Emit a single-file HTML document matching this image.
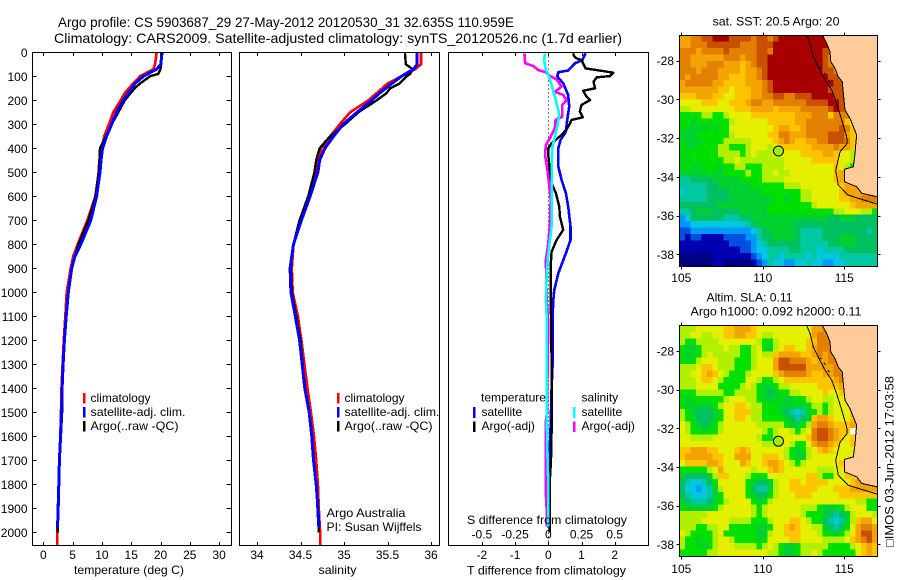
<!DOCTYPE html>
<html>
<head>
<meta charset="utf-8">
<title>Argo profile</title>
<style>
html,body{margin:0;padding:0;background:#fff;}
svg{display:block;}
text{font-family:"Liberation Sans","DejaVu Sans",sans-serif;font-size:12px;fill:#000;}
</style>
</head>
<body>
<svg id="fig" xmlns="http://www.w3.org/2000/svg" width="900" height="580" viewBox="0 0 900 580">
<rect x="0" y="0" width="900" height="580" fill="#fff"/>
<text x="58" y="27" font-size="14" textLength="456" lengthAdjust="spacingAndGlyphs" style="font-size:14px">Argo profile: CS 5903687_29 27-May-2012 20120530_31 32.635S 110.959E</text>
<text x="54" y="43" font-size="14" textLength="568" lengthAdjust="spacingAndGlyphs" style="font-size:14px">Climatology: CARS2009. Satellite-adjusted climatology: synTS_20120526.nc (1.7d earlier)</text>
<g id="panels"></g>
<g id="maps"></g>

<text x="129" y="574" text-anchor="middle" textLength="110" lengthAdjust="spacingAndGlyphs">temperature (deg C)</text>
<text x="337.5" y="574" text-anchor="middle" textLength="38" lengthAdjust="spacingAndGlyphs">salinity</text>
<text x="467" y="574.5" textLength="159" lengthAdjust="spacingAndGlyphs">T difference from climatology</text>
<text x="467" y="524" textLength="160" lengthAdjust="spacingAndGlyphs">S difference from climatology</text>

<g>
<rect x="83" y="393" width="2.5" height="10.5" fill="#ff0000"/>
<rect x="83" y="407" width="2.5" height="10.5" fill="#0000ff"/>
<rect x="83" y="421" width="2.5" height="10.5" fill="#000"/>
<text x="90.5" y="402">climatology</text>
<text x="90.5" y="416" textLength="95" lengthAdjust="spacingAndGlyphs">satellite-adj. clim.</text>
<text x="90.5" y="430" textLength="88" lengthAdjust="spacingAndGlyphs">Argo(..raw -QC)</text>
</g>
<g>
<rect x="337" y="393" width="2.5" height="10.5" fill="#ff0000"/>
<rect x="337" y="407" width="2.5" height="10.5" fill="#0000ff"/>
<rect x="337" y="421" width="2.5" height="10.5" fill="#000"/>
<text x="344.5" y="402">climatology</text>
<text x="344.5" y="416" textLength="95" lengthAdjust="spacingAndGlyphs">satellite-adj. clim.</text>
<text x="344.5" y="430" textLength="88" lengthAdjust="spacingAndGlyphs">Argo(..raw -QC)</text>
</g>
<text x="326.5" y="517" textLength="79" lengthAdjust="spacingAndGlyphs">Argo Australia</text>
<text x="326.5" y="531" textLength="95" lengthAdjust="spacingAndGlyphs">PI: Susan Wijffels</text>

<g>
<text x="481" y="401.5" textLength="65" lengthAdjust="spacingAndGlyphs">temperature</text>
<rect x="473" y="407" width="2.5" height="11" fill="#0000ff"/>
<text x="481.5" y="416">satellite</text>
<rect x="473" y="421.5" width="2.5" height="10.5" fill="#000"/>
<text x="481.5" y="430">Argo(-adj)</text>
<text x="581.5" y="401.5">salinity</text>
<rect x="573" y="407" width="2.5" height="11" fill="#00ffff"/>
<text x="581.5" y="416">satellite</text>
<rect x="573" y="421.5" width="2.5" height="10.5" fill="#ff00ff"/>
<text x="581.5" y="430">Argo(-adj)</text>
</g>

<text x="712.5" y="25.5" textLength="127" lengthAdjust="spacingAndGlyphs">sat. SST: 20.5  Argo: 20</text>
<text x="706.5" y="301.5" textLength="86" lengthAdjust="spacingAndGlyphs">Altim. SLA: 0.11</text>
<text x="690.5" y="315.5" textLength="171" lengthAdjust="spacingAndGlyphs">Argo h1000: 0.092 h2000: 0.11</text>
<text transform="translate(893.5,547) rotate(-90)" x="0" y="0" textLength="171" lengthAdjust="spacingAndGlyphs">□IMOS 03-Jun-2012 17:03:58</text>
</svg>

<script>
/* ---------- profile data ---------- */
const depthTicks = [0,100,200,300,400,500,600,700,800,900,1000,1100,1200,1300,1400,1500,1600,1700,1800,1900,2000];
const tempTicks = [0,5,10,15,20,25,30];
const salTicks = [34,34.5,35,35.5,36];
const salTickLabels = ['34','34.5','35','35.5','36'];
const diffTicks = [-2,-1,0,1,2];
const sDiffLabels = ['-0.5','-0.25','0','0.25','0.5'];

const climDepth = [0,50,70,100,130,170,200,250,300,350,400,450,500,600,700,800,850,900,1000,1100,1200,1300,1400,1500,1600,1700,1800,1900,2000,2053];
const climTemp = [19.35,19.06,18.8,16.5,15.3,13.9,13.2,11.95,11.2,10.4,9.96,9.56,9.45,8.87,7.5,5.87,5.1,4.67,4.0,3.75,3.5,3.3,3.1,3.02,2.9,2.73,2.63,2.56,2.39,2.39];
const climSal = [35.885,35.885,35.82,35.66,35.5,35.376,35.28,35.07,34.95,34.84,34.74,34.71,34.68,34.59,34.49,34.42,34.41,34.4,34.41,34.47,34.51,34.545,34.58,34.62,34.655,34.68,34.7,34.71,34.725,34.725];

const satDepth = [0,50,70,100,130,170,200,250,300,350,400,450,500,600,700,800,850,900,1000,1100,1200,1300,1400,1500,1600,1700,1800,1900,1980];
const satTemp = [20.2,20.08,19.35,17.07,15.65,14.5,13.65,12.5,11.67,10.8,10.1,9.85,9.67,9.1,8.1,6.4,5.4,4.85,4.27,3.9,3.6,3.38,3.2,3.1,2.95,2.75,2.65,2.55,2.42];
const satSal = [35.84,35.84,35.8,35.66,35.55,35.41,35.32,35.15,34.99,34.88,34.78,34.72,34.70,34.61,34.51,34.42,34.4,34.38,34.39,34.44,34.49,34.52,34.55,34.6,34.63,34.65,34.68,34.7,34.715];

const argoDepth = [0,50,70,90,100,130,150,170,200,250,300,350,400,450,500,600,700,800,850,900,1000,1100,1200,1300,1400,1500,1600,1700,1800,1900,2000];
const argoTemp = [20.3,20.1,20,19.6,18.2,16.5,15.6,14.9,13.9,12.8,11.67,10.7,9.67,9.6,9.45,8.93,7.7,6,5.4,4.8,4.25,3.9,3.62,3.42,3.25,3.2,3.0,2.78,2.68,2.45,2.45];
const argoSal = [35.70,35.71,35.79,35.76,35.72,35.64,35.53,35.49,35.376,35.165,35.01,34.84,34.72,34.68,34.66,34.59,34.49,34.42,34.4,34.39,34.40,34.45,34.5,34.525,34.55,34.6,34.63,34.65,34.68,34.695,34.71];

const diffSatTDepth = [4,32,46,76,83,101,129,178,226,282,331,365,400,476,532,587,643,726,782,837,921,990,1032,1100,1300,1400,1500,1600,1700,1800,1900,1980];
const diffSatT = [1.12,1.03,0.8,0.6,0.3,0.27,0.45,0.6,0.63,0.57,0.53,0.37,0.3,0.3,0.4,0.53,0.6,0.67,0.67,0.53,0.3,0.18,0.15,0.13,0.13,0.1,0.08,0.06,0.02,0,0,0];

const diffArgoTDepth = [4,15,25,32,67,74,85,99,104,122,150,160,185,199,219,247,271,282,303,321,344,379,400,428,504,546,587,643,685,740,782,831,893,1032,1100,1300,1500,1700,1800,1950,2000];
const diffArgoT = [0.75,0.77,0.85,1.0,1.12,1.46,1.96,1.86,1.46,1.36,1.41,1.05,1.15,1.26,1.0,0.95,1.04,0.7,0.63,0.55,0.4,0.1,0,0,0.05,0.1,0.23,0.33,0.35,0.45,0.25,0.1,0.07,0.07,0.08,0.1,0.11,0.08,0.04,0.05,0.04];

const diffArgoSDepth = [4,46,57,74,83,94,113,143,164,178,199,219,268,282,317,358,386,428,483,546,615,712,796,865,1032,1130,1300,1500,1545,1820,1905,1975];
const diffArgoS = [-0.18,-0.175,-0.112,-0.075,-0.018,0,0.062,0.1,0.05,0.112,0.138,0.105,0.105,0.055,0.05,0.012,-0.018,-0.025,-0.008,0.005,0.018,0.012,0,-0.018,-0.012,0,-0.005,-0.01,-0.02,-0.02,-0.012,-0.012];

const diffSatSDepth = [4,32,74,94,136,185,240,262,310,352,393,450,532,643,726,837,921,1032,1100,1300,1500,1700,1800,1975];
const diffSatS = [-0.025,-0.032,-0.018,0,0.025,0.05,0.075,0.082,0.068,0.05,0.032,0.025,0.025,0.025,0.025,0,-0.012,-0.018,-0.012,-0.012,-0.012,-0.005,0,0];

/* ---------- map data (colour levels 0-15 from the map palette, 16 = white) ---------- */
const lonTicks = [105,110,115];
const latTicks = [-28,-30,-32,-34,-36,-38];
const floatLon = [110.96];
const floatLat = [-32.635];

const coastLon = [113.65,113.92,114.12,114.17,114.43,114.63,114.88,114.94,115.04,115.35,115.55,115.76,115.70,115.66,115.55,115.0,115.0,115.76,116.07,117.03];
const coastLat = [-26.67,-27.10,-27.53,-28.05,-28.39,-28.83,-29.09,-29.68,-30.55,-30.98,-31.41,-31.84,-32.36,-32.77,-33.48,-33.61,-34.25,-34.51,-34.85,-35.03];
const isobathLon = [112.69,112.9,113.1,113.4,113.82,114.23,114.53,114.84,115.15,115.18,114.74,114.47,114.63,115.24,115.86,117.03];
const isobathLat = [-26.67,-27.1,-27.79,-28.31,-29.0,-29.51,-30.2,-31.06,-31.93,-32.27,-32.7,-33.65,-34.42,-34.94,-35.11,-35.41];
const islandLon = [113.5,113.6,113.75,113.85,114.0,114.1];
const islandLat = [-28.35,-28.42,-28.62,-28.7,-29.0,-29.1];

const sstRows = [
[12,12,13,13,14,14,15,15,15,14,14,14,14,13,14,14,13,14,15,15,15,15,15,15,15,15,15,14,14,14],
[12,12,13,13,13,14,14,14,14,14,14,13,13,13,14,14,14,15,15,15,15,15,15,15,15,15,15,14,14,14],
[13,13,13,12,13,13,13,13,14,13,13,13,13,13,14,14,13,15,15,15,15,15,15,15,15,15,14,14,14,14],
[13,13,12,12,12,12,12,12,13,13,13,12,13,13,14,14,15,15,15,15,15,15,15,15,15,15,14,13,13,13,13],
[13,13,12,12,12,13,13,13,12,12,12,11,12,13,14,14,15,15,15,15,15,15,15,15,15,15,14,13,13,13,13],
[13,13,13,12,13,13,13,12,12,12,12,11,12,12,13,14,15,15,15,15,15,15,15,15,15,15,14,14,13,13,13],
[13,12,13,13,13,13,13,12,12,11,11,11,12,12,13,14,15,15,15,15,15,15,15,15,15,15,15,14,14,13,13,13],
[12,13,13,13,13,13,12,12,11,11,11,11,12,12,12,13,14,15,15,15,15,15,15,15,15,15,15,15,14,14,13,13],
[12,12,12,12,12,12,12,11,11,10,11,11,11,12,12,13,14,15,15,15,15,15,15,15,15,15,15,14,14,14,13,13],
[11,11,11,12,12,12,11,11,10,10,11,11,11,12,12,13,13,14,14,13,13,14,14,14,15,15,15,15,14,14,13,13],
[10,10,10,10,11,11,11,10,10,11,11,11,12,13,13,12,12,13,13,13,13,13,13,14,14,14,14,15,15,14,13,12,12],
[9,9,10,10,10,10,10,10,10,10,11,11,11,12,12,12,12,11,12,12,12,12,13,13,13,13,13,14,15,14,13,12,12],
[8,8,8,8,9,9,8,8,9,10,10,10,10,11,11,11,11,11,11,11,11,12,12,12,13,13,13,11,13,13,13,12,11],
[8,8,7,8,8,8,8,8,8,9,10,10,10,10,10,10,11,11,11,11,11,12,12,13,13,13,13,13,13,13,11,10,10],
[8,7,7,7,7,8,7,8,8,10,10,10,10,10,10,10,10,11,12,12,11,11,12,13,13,13,13,13,13,14,13,11,11],
[7,7,7,8,8,8,8,8,8,9,10,10,10,10,10,10,11,11,13,13,12,12,12,13,13,13,13,14,14,14,12,11,11],
[8,7,7,7,8,8,8,8,9,9,9,9,9,10,10,10,10,11,12,13,12,11,11,12,12,13,13,14,14,14,13,11,11],
[8,7,7,8,8,8,8,9,9,8,8,8,9,10,10,10,9,10,11,11,11,11,11,11,12,12,12,12,13,12,12,11,11,11],
[8,8,8,8,8,8,8,9,9,9,9,8,9,10,9,9,9,10,10,10,10,10,11,11,11,11,12,12,11,10,10,9,9,9],
[8,7,8,8,8,8,8,8,9,9,10,9,9,9,9,9,9,9,9,10,10,10,10,10,11,11,11,11,11,10,10,9,8,8],
[8,8,7,7,8,8,8,7,8,8,9,9,8,8,8,9,9,9,9,10,10,10,10,10,10,10,10,10,11,10,9,8,8,8],
[7,7,7,7,7,8,7,7,8,8,8,8,9,8,8,9,9,10,9,9,10,10,10,10,10,10,10,10,11,12,12,12,12],
[5,5,6,6,6,6,7,7,7,7,7,8,8,8,8,9,9,9,9,10,10,10,10,10,10,10,10,10,11,12,12,12,12],
[5,5,5,5,5,6,6,7,7,7,7,7,7,8,8,8,8,8,8,9,9,9,10,10,10,10,10,10,10,11,12,12,12,12,12,12],
[4,5,5,5,5,6,6,6,6,7,7,7,7,7,7,8,8,8,8,8,8,8,9,9,10,10,10,10,10,11,12,12,12,12,12,12],
[5,5,5,5,5,6,6,6,6,7,7,7,7,7,7,7,7,8,8,7,8,8,9,9,10,10,10,10,10,11,11,12,12,13,13,13],
[6,6,6,6,6,6,6,7,7,7,7,7,7,7,7,7,8,8,8,8,8,8,8,8,9,10,10,10,10,10,10,11,12,12,12,12],
[5,5,6,7,7,7,6,6,6,6,6,7,7,7,7,7,8,8,8,8,8,8,8,8,8,8,8,8,9,9,10,10,10,9,9,8],
[3,4,6,6,6,6,6,6,5,5,5,6,6,7,7,7,7,7,7,7,7,7,7,7,7,7,7,6,6,7,7,7,6,6,6,6],
[3,3,4,4,4,4,4,4,4,4,4,4,5,6,7,7,7,7,7,7,7,6,6,6,6,6,6,6,6,6,6,6,6,6,6,6],
[2,2,3,3,3,3,3,3,3,3,3,3,3,4,5,6,7,7,7,7,7,6,5,5,5,5,6,6,6,6,6,6,6,6,5,6],
[2,1,2,2,1,1,1,1,2,2,2,2,3,3,5,6,6,7,7,7,7,6,5,5,5,5,6,6,6,7,7,7,6,6,6,6],
[1,1,1,1,1,1,1,1,1,2,2,2,2,3,4,5,6,6,6,6,6,6,5,5,5,5,5,6,6,7,7,7,6,6,6,6],
[1,1,1,1,1,1,1,1,1,1,1,2,2,3,4,4,5,5,5,5,6,6,5,5,5,4,5,5,5,5,6,6,6,6,6,6],
[0,0,0,0,0,0,1,1,1,1,1,1,1,2,3,4,5,5,4,5,5,5,5,4,5,4,4,4,4,5,5,5,5,5,5,5],
[0,0,0,0,0,0,1,1,0,0,0,0,0,1,2,3,5,4,4,3,3,4,4,5,4,4,3,3,4,4,5,5,5,5,5,5]
];

const slaRows = [
[9,9,9,10,10,10,10,10,11,11,12,12,12,11,10,10,10,10,10,10,10,10,10,10,12,12,13,13,13],
[9,9,10,10,9,9,10,10,11,11,12,12,11,11,10,9,9,10,10,10,10,10,10,10,12,13,13,13,13,13],
[9,8,8,9,9,9,9,10,10,10,10,10,10,10,9,8,8,9,10,10,10,10,10,11,11,13,13,13,13,13],
[8,7,7,8,9,9,9,9,10,9,9,8,8,9,10,8,7,9,10,11,11,10,10,11,12,13,13,13,13,13],
[8,7,7,8,9,10,9,9,9,9,9,8,8,9,10,9,9,11,12,12,12,12,11,11,12,13,12,13,13,13,13],
[8,7,8,9,10,10,10,9,9,9,8,8,8,9,10,10,10,12,14,14,13,13,13,12,11,12,12,13,13,13,13],
[9,9,9,10,11,11,10,9,9,9,8,8,8,9,10,10,10,12,14,14,14,14,14,12,12,12,12,12,13,13,13],
[9,9,10,10,11,12,11,10,9,8,8,8,9,10,10,10,10,11,12,13,13,13,13,12,11,11,12,12,13,13,13],
[9,9,9,10,11,11,10,9,8,8,8,8,10,10,9,8,8,9,10,11,11,11,11,11,11,11,11,11,12,13,13,13],
[9,9,9,10,10,10,10,8,8,8,8,9,10,9,8,7,7,8,9,9,10,10,10,10,10,11,11,11,11,12,12,12],
[8,8,8,9,9,9,9,9,8,8,9,9,9,9,8,7,6,7,8,8,9,9,10,10,10,10,11,10,10,11,11,12,12],
[8,7,8,8,8,8,8,8,9,10,10,10,9,9,8,7,7,7,8,7,7,8,8,9,10,10,9,9,10,10,11,12,12],
[8,7,7,7,7,7,8,9,10,10,11,11,10,9,9,8,8,8,7,7,7,7,7,8,9,9,8,9,10,10,10,11,12],
[9,8,7,6,6,6,7,8,10,10,11,11,11,9,9,8,8,8,7,6,5,4,5,7,8,9,8,9,10,10,10,11,12],
[9,8,7,6,6,6,7,8,10,10,11,11,10,9,9,8,8,8,8,7,6,5,6,7,11,12,12,11,10,10,10,11,12],
[10,9,8,7,6,7,8,9,10,10,10,10,10,10,9,9,9,9,9,8,7,7,8,9,12,13,13,12,11,11,11,12,12],
[10,9,8,8,7,8,8,9,10,10,10,10,10,10,10,9,8,9,10,10,9,8,9,10,13,14,14,13,12,11,11,16,12],
[10,10,9,9,9,9,10,10,10,10,10,10,10,10,9,8,8,9,10,10,10,10,10,11,13,14,14,13,12,11,10,11,11],
[10,10,10,10,10,10,10,10,10,10,10,10,10,10,10,9,9,9,10,10,9,8,8,10,12,13,13,12,11,10,10,11,11],
[11,11,12,12,12,11,11,10,10,10,11,12,11,10,10,10,10,10,10,9,8,7,8,9,10,11,12,11,10,10,10,10,10],
[11,12,12,12,12,12,11,11,10,10,12,12,12,10,10,11,11,11,10,9,8,7,7,9,10,10,10,10,10,10,10,10,10],
[10,11,11,11,11,12,12,11,10,10,10,12,11,10,10,11,12,12,11,10,9,8,9,10,10,10,10,10,10,11,11,11,11],
[8,8,8,8,8,9,10,12,10,10,10,10,10,9,10,10,11,12,11,10,10,10,10,10,10,9,9,9,10,10,11,11,11],
[7,6,6,6,6,7,9,11,11,10,10,10,9,8,8,8,10,10,10,10,10,10,10,11,11,9,8,8,10,10,11,11,11,11],
[6,5,4,4,5,6,8,10,10,10,10,10,8,7,6,6,7,9,10,10,11,11,10,11,11,11,11,10,10,10,10,11,12,12,12,11],
[6,4,4,3,4,5,7,9,10,10,10,10,8,6,5,5,7,9,10,10,11,11,11,11,11,10,10,10,11,11,11,12,12,12,12,12],
[6,5,4,4,4,5,7,8,10,10,10,10,8,7,6,6,8,9,10,10,10,11,11,11,10,10,10,10,10,11,11,11,11,11,11,11],
[7,6,5,5,5,6,7,8,9,10,10,10,10,8,7,8,9,10,10,10,10,10,10,10,10,10,10,10,10,10,10,10,9,9,8,8],
[8,7,7,7,7,7,8,9,10,10,10,10,10,9,8,9,10,10,10,10,10,10,9,9,9,8,7,7,7,8,9,10,10,10,8,8],
[9,9,9,9,9,10,10,10,10,10,10,10,10,9,8,9,10,10,10,10,10,10,9,8,8,8,7,6,5,6,7,9,10,10,10,9],
[9,9,9,9,10,10,10,10,10,9,9,9,9,8,8,8,9,10,10,10,11,11,10,9,8,8,6,5,4,5,7,9,11,12,12,10],
[9,9,9,8,8,9,9,10,10,8,8,8,8,8,7,7,8,10,10,11,12,11,10,10,9,9,7,6,5,6,8,10,12,13,13,12],
[10,9,8,8,8,8,9,10,8,8,8,8,8,8,7,7,9,10,10,11,11,11,10,10,10,9,8,8,7,8,9,10,12,14,14,12],
[9,8,8,7,8,8,9,10,10,9,8,8,8,8,7,8,10,10,10,10,11,11,10,10,10,10,9,9,9,9,10,11,12,13,14,12],
[9,8,8,8,7,8,9,10,10,10,9,9,9,9,8,9,10,9,8,7,7,8,9,9,9,9,9,8,8,8,8,9,10,11,12,11],
[8,8,8,8,8,9,9,10,10,10,10,10,10,10,10,10,9,9,8,7,7,8,9,9,10,9,8,8,8,8,8,8,10,11,12,11]
];

/* ---------- drawing ---------- */
const SVGNS = 'http://www.w3.org/2000/svg';
const palette = ['#000080','#0000b0','#0050e0','#0098ff','#00c8e0','#00c8a0','#00c060','#00d030','#00e000','#b0f000','#e4f000','#ffc400','#f4a400','#e48000','#c85000','#a80000','#ffffff'];
const plotTop = 52.5, plotBottom = 545.5;
const depthY = d => 52.3 + d * 0.24;
const tempX = t => 43.3 + t * 5.86;
const salX = s => 257 + (s - 34) * 87;
const diffX = v => 548.3 + v * 33.2;
const sDiffX = v => diffX(v * 4);

const panels = document.getElementById('panels');
const maps = document.getElementById('maps');

function mk(tag, attrs, parent) {
  const el = document.createElementNS(SVGNS, tag);
  for (const k in attrs) el.setAttribute(k, attrs[k]);
  parent.appendChild(el);
  return el;
}
function tickMark(parent, x1, y1, x2, y2, name) {
  const el = mk('line', {x1: x1, y1: y1, x2: x2, y2: y2, stroke: '#000', 'stroke-width': 1, 'shape-rendering': 'crispEdges'}, parent);
  
  
}
function label(parent, txt, x, y, anchor, name) {
  const el = mk('text', {x: x, y: y, 'text-anchor': anchor}, parent);
  el.textContent = txt;
  
  
}
function frame(parent, x, y, w, h, name) {
  const el = mk('rect', {x: x, y: y, width: w, height: h, fill: 'none', stroke: '#000', 'stroke-width': 1, 'shape-rendering': 'crispEdges'}, parent);
  
  
}
function profile(parent, xs, depths, xFn, color, width, name) {
  const pts = xs.map((v, i) => xFn(v).toFixed(1) + ',' + depthY(depths[i]).toFixed(1)).join(' ');
  const el = mk('polyline', {points: pts, fill: 'none', stroke: color, 'stroke-width': width, 'stroke-linejoin': 'round', 'shape-rendering': 'crispEdges'}, parent);
  
  
}
function xTicks(parent, ticks, xFn, name) {
  ticks.forEach(t => {
    const x = Math.round(xFn(t)) + 0.5;
    tickMark(parent, x, plotTop, x, plotTop + 3.5, name + '-top');
    tickMark(parent, x, plotBottom, x, plotBottom - 3.5, name + '-bottom');
  });
}

/* temperature panel */
const gT = mk('g', {}, panels);


profile(gT, climTemp, climDepth, tempX, '#ff0000', 2.6, 'climatology-temperature-line');
profile(gT, argoTemp, argoDepth, tempX, '#000000', 2.4, 'argo-temperature-line');
profile(gT, satTemp, satDepth, tempX, '#0000ff', 3, 'satellite-temperature-line');
frame(gT, 32.5, plotTop, 199, plotBottom - plotTop, 'temperature-panel-frame');
xTicks(gT, tempTicks, tempX, 'temperature-tick');
tempTicks.forEach(t => label(gT, String(t), tempX(t), 559, 'middle', 'temperature-tick-label'));
depthTicks.forEach(d => {
  const y = Math.round(depthY(d)) + 0.5;
  tickMark(gT, 32.5, y, 36.5, y, 'depth-tick-left');
  tickMark(gT, 231.5, y, 226.5, y, 'depth-tick-right');
  label(gT, String(d), 27.5, depthY(d) + 4.5, 'end', 'depth-tick-label');
});

/* salinity panel */
const gS = mk('g', {}, panels);


profile(gS, climSal, climDepth, salX, '#ff0000', 2.6, 'climatology-salinity-line');
profile(gS, argoSal, argoDepth, salX, '#000000', 2.4, 'argo-salinity-line');
profile(gS, satSal, satDepth, salX, '#0000ff', 3, 'satellite-salinity-line');
frame(gS, 239.5, plotTop, 200, plotBottom - plotTop, 'salinity-panel-frame');
xTicks(gS, salTicks, salX, 'salinity-tick');
salTicks.forEach((t, i) => label(gS, salTickLabels[i], salX(t), 559, 'middle', 'salinity-tick-label'));

/* difference panel */
const gD = mk('g', {}, panels);


const zero = mk('line', {x1: diffX(0), y1: plotTop, x2: diffX(0), y2: plotBottom, stroke: '#000', 'stroke-width': 1, 'stroke-dasharray': '1 3', 'shape-rendering': 'crispEdges'}, gD);


profile(gD, diffSatT, diffSatTDepth, diffX, '#0000ff', 2.6, 'temperature-satellite-difference-line');
profile(gD, diffArgoT, diffArgoTDepth, diffX, '#000000', 2.4, 'temperature-argo-difference-line');
profile(gD, diffArgoS, diffArgoSDepth, sDiffX, '#ff00ff', 2.6, 'salinity-argo-difference-line');
profile(gD, diffSatS, diffSatSDepth, sDiffX, '#00ffff', 2.6, 'salinity-satellite-difference-line');
frame(gD, 448.5, plotTop, 200, plotBottom - plotTop, 'difference-panel-frame');
xTicks(gD, diffTicks, diffX, 'difference-tick');
diffTicks.forEach(t => label(gD, String(t), diffX(t), 559, 'middle', 't-difference-tick-label'));
diffTicks.forEach((t, i) => label(gD, sDiffLabels[i], diffX(t), 538.5, 'middle', 's-difference-tick-label'));

/* maps */
const MAP_LEFT = 679.5, MAP_W = 198;
const LON_MIN = 104.88, LON_MAX = 117.03, LAT_MAX = -26.69, LAT_MIN = -38.6;
const lonX = lon => 681.3 + (lon - 105) * 16.3;

function drawMap(rows, top, height, y28, scaleY, mapName, lonLabelY) {
  const latY = lat => y28 + (-28 - lat) * scaleY;
  const g = mk('g', {}, maps);
  
  
  const clipId = mapName + '-clip';
  const clip = mk('clipPath', {id: clipId}, g);
  mk('rect', {x: MAP_LEFT, y: top, width: MAP_W, height: height}, clip);
  const inner = mk('g', {'clip-path': 'url(#' + clipId + ')'}, g);
  const land = mk('rect', {x: MAP_LEFT, y: top, width: MAP_W, height: height, fill: '#ffcc99'}, inner);
  
  
  const dLon = (LON_MAX - LON_MIN) / 36;
  const dLat = (LAT_MAX - LAT_MIN) / rows.length;
  rows.forEach((row, r) => {
    row.forEach((v, c) => {
      const x0 = lonX(LON_MIN + c * dLon), x1 = lonX(LON_MIN + (c + 1) * dLon);
      const y0 = latY(LAT_MAX - r * dLat), y1 = latY(LAT_MAX - (r + 1) * dLat);
      const cell = mk('rect', {x: x0.toFixed(2), y: y0.toFixed(2), width: (x1 - x0 + 0.4).toFixed(2), height: (y1 - y0 + 0.4).toFixed(2), fill: palette[Math.max(0, Math.min(16, Math.round(v)))], 'shape-rendering': 'crispEdges'}, inner);
      
      
    });
  });
  const coastPts = coastLon.map((lon, i) => lonX(lon).toFixed(1) + ',' + latY(coastLat[i]).toFixed(1));
  const landPoly = mk('polygon', {points: coastPts.join(' ') + ' ' + (MAP_LEFT + MAP_W + 2) + ',' + latY(coastLat[coastLat.length - 1]).toFixed(1) + ' ' + (MAP_LEFT + MAP_W + 2) + ',' + (top - 2), fill: '#ffcc99', stroke: 'none'}, inner);
  
  
  const coastLine = mk('polyline', {points: coastPts.join(' '), fill: 'none', stroke: '#000', 'stroke-width': 1, 'shape-rendering': 'crispEdges'}, inner);
  
  
  const isoPts = isobathLon.map((lon, i) => lonX(lon).toFixed(1) + ',' + latY(isobathLat[i]).toFixed(1)).join(' ');
  const iso = mk('polyline', {points: isoPts, fill: 'none', stroke: '#000', 'stroke-width': 1, 'shape-rendering': 'crispEdges'}, inner);
  
  
  for (let i = 0; i + 1 < islandLon.length; i += 2) {
    const isl = mk('line', {x1: lonX(islandLon[i]), y1: latY(islandLat[i]), x2: lonX(islandLon[i + 1]), y2: latY(islandLat[i + 1]), stroke: '#000', 'stroke-width': 1, 'shape-rendering': 'crispEdges'}, inner);
    
    
  }
  floatLon.forEach((lon, i) => {
    const dot = mk('circle', {cx: lonX(lon), cy: latY(floatLat[i]) + 0.6, r: 5, fill: '#a0f000', stroke: '#000', 'stroke-width': 1}, inner);
    
    
  });
  frame(g, MAP_LEFT, top, MAP_W, height, mapName + '-frame');
  lonTicks.forEach(lon => {
    const x = Math.round(lonX(lon)) + 0.5;
    tickMark(g, x, top, x, top - 3, 'longitude-tick-top');
    tickMark(g, x, top + height, x, top + height + 3, 'longitude-tick-bottom');
    label(g, String(lon), lonX(lon), lonLabelY, 'middle', 'longitude-tick-label');
  });
  latTicks.forEach(lat => {
    const y = Math.round(latY(lat)) + 0.5;
    tickMark(g, MAP_LEFT, y, MAP_LEFT - 3, y, 'latitude-tick-left');
    tickMark(g, MAP_LEFT + MAP_W, y, MAP_LEFT + MAP_W + 3, y, 'latitude-tick-right');
    label(g, String(lat), 674, latY(lat) + 4.5, 'end', 'latitude-tick-label');
  });
}
drawMap(sstRows, 35.5, 231, 60.7, 19.36, 'sst-map', 282);
drawMap(slaRows, 325.5, 231, 351, 19.33, 'sla-map', 573);
</script>
</body>
</html>
